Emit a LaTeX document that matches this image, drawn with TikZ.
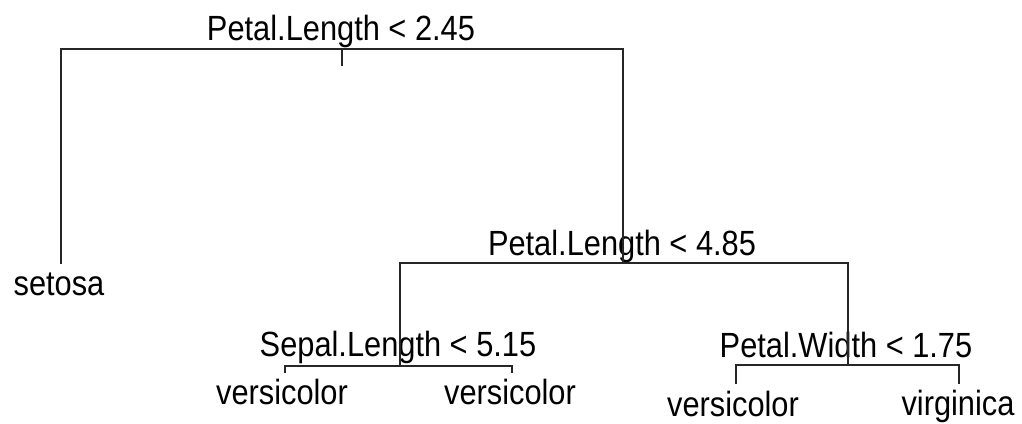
\documentclass[tikz,border=0pt]{standalone}
\usepackage{fontspec}
\setmainfont{Liberation Sans}[FakeStretch=0.88]
\begin{document}
\begin{tikzpicture}[x=1pt,y=-1pt,
  edge/.style={line width=1.6pt, draw=black!85},
  lbl/.style={anchor=base, inner sep=0pt, font=\fontsize{35}{42}\selectfont}]
\useasboundingbox (0,0) rectangle (1022,423);
% tree node positions
\coordinate (n1) at (342,49);
\coordinate (t1) at (342,66);
\coordinate (n2) at (61,264);
\coordinate (n3) at (623,263);
\coordinate (n4) at (400,366);
\coordinate (n5) at (848,365);
\coordinate (l1) at (285,373);
\coordinate (l2) at (512,373);
\coordinate (l3) at (736,384);
\coordinate (l4) at (959,384);
% labels
\node[lbl] (s1) at (341,40) {Petal.Length < 2.45};
\node[lbl] (leaf1) at (59,295) {setosa};
\node[lbl] (s2) at (622,255) {Petal.Length < 4.85};
\node[lbl] (s3) at (398,356) {Sepal.Length < 5.15};
\node[lbl] (leaf2) at (282,404) {versicolor};
\node[lbl] (leaf3) at (510,404) {versicolor};
\node[lbl] (s4) at (846,357) {Petal.Width < 1.75};
\node[lbl] (leaf4) at (733,416) {versicolor};
\node[lbl] (leaf5) at (958,415) {virginica};
% edges
\draw[edge] (n1) -- (t1);
\draw[edge] (n2) |- (n1) -| (n3);
\draw[edge] (n4) |- (n3) -| (n5);
\draw[edge] (l1) |- (n4) -| (l2);
\draw[edge] (l3) |- (n5) -| (l4);
\end{tikzpicture}
\end{document}
